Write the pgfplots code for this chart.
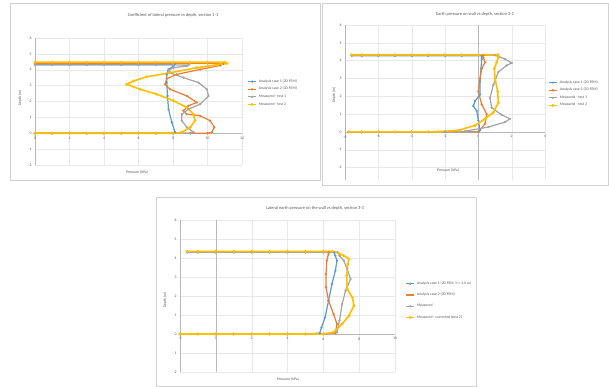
\documentclass[border=0pt]{standalone}
\usepackage{pgfplots}
\pgfplotsset{compat=1.18}
\usepackage{fontspec}
\setmainfont{Carlito}
\definecolor{xblue}{HTML}{5B9BD5}
\definecolor{xorange}{HTML}{ED7D31}
\definecolor{xgray}{HTML}{A5A5A5}
\definecolor{xyellow}{HTML}{FFC000}
\definecolor{txt}{HTML}{595959}
\newcommand{\tf}{\fontsize{3.8}{4.4}\selectfont}
\newcommand{\ttf}{\fontsize{4.4}{5}\selectfont}
\pgfplotsset{
 panel/.style={
  scale only axis,
  axis x line=middle, axis y line=left,
  axis line style={-, draw=gray!55, line width=0.4pt},
  grid=major, grid style={gray!18, line width=0.3pt},
  major tick length=0pt,
  tick label style={font=\tf, text=txt},
  /pgf/number format/assume math mode=true,
  hide obscured x ticks=false, hide obscured y ticks=false,
  clip=false,
  legend style={draw=none, fill=none, font=\tf, text=txt, row sep=-0.6pt, inner sep=0pt},
  legend cell align=left,
  legend image code/.code={\draw[mark repeat=2,mark phase=2,#1] plot coordinates {(0pt,0pt) (4pt,0pt) (8pt,0pt)};},
 },
 sb/.style={color=xblue, line width=1.2pt, mark=*, mark size=0.45pt},
 so/.style={color=xorange, line width=1.2pt, mark=*, mark size=0.45pt},
 sg/.style={color=xgray, line width=1.2pt, mark=*, mark size=0.45pt},
 sy/.style={color=xyellow, line width=1.6pt, mark=*, mark size=0.5pt},
}
\begin{document}
\begin{tikzpicture}
\fill[white] (0pt,0pt) rectangle (609pt,387pt);
\draw[gray!35, line width=0.4pt] (10pt,207pt) rectangle (320pt,384pt);
\draw[gray!35, line width=0.4pt] (322pt,202pt) rectangle (608pt,384pt);
\draw[gray!35, line width=0.4pt] (156pt,0.5pt) rectangle (476pt,190pt);

% ---------- Panel 1 ----------
\begin{axis}[panel, at={(35pt,222pt)}, anchor=south west, width=207pt, height=127pt,
  xmin=0, xmax=12, ymin=-2, ymax=6, xtick={0,2,...,12}, ytick={-2,-1,...,6},
  legend style={at={(rel axis cs:1.025,0.567)}, anchor=west}]
\addplot[sb] coordinates {(0,0)(1,0)(2,0)(3,0)(4,0)(5,0)(6,0)(7,0)(8,0)(8.12,0.06)(7.93,0.69)(7.74,1.52)(7.68,2.35)(7.64,3.19)(7.64,3.71)(7.74,4.02)(8.03,4.23)(8.1,4.35)(7,4.35)(6,4.35)(5,4.35)(4,4.35)(3,4.35)(2,4.35)(1,4.35)(0,4.35)};
\addplot[so] coordinates {(0,0)(1,0)(2,0)(3,0)(4,0)(5,0)(6,0)(7,0)(8,0)(9,0)(10,0)(10.25,0.06)(10.4,0.38)(10.15,0.79)(9.57,1.1)(8.8,1.2)(8.6,1.42)(8.9,1.73)(9.38,1.94)(8.8,2.35)(7.83,2.77)(7.54,3.08)(7.64,3.44)(8.22,3.71)(9.57,4.02)(10.73,4.27)(10.93,4.38)(10,4.4)(9,4.4)(8,4.4)(7,4.4)(6,4.4)(5,4.4)(4,4.4)(3,4.4)(2,4.4)(1,4.4)(0,4.4)};
\addplot[sg] coordinates {(0,0)(1,0)(2,0)(3,0)(4,0)(5,0)(6,0)(7,0)(8,0)(9,0)(9.19,0.06)(8.8,0.38)(8.51,0.79)(8.51,1.2)(8.9,1.52)(9.57,1.83)(10.06,2.35)(9.96,2.77)(9.48,3.19)(8.61,3.5)(7.93,3.77)(7.74,3.98)(8.03,4.13)(8.8,4.23)(8.9,4.3)(8,4.3)(7,4.3)(6,4.3)(5,4.3)(4,4.3)(3,4.3)(2,4.3)(1,4.3)(0,4.3)};
\addplot[sy] coordinates {(0,0)(1,0)(2,0)(3,0)(4,0)(5,0)(6,0)(7,0)(8,0)(8.51,0.06)(9.0,0.38)(9.28,0.79)(9.19,1.2)(8.8,1.63)(8.03,2.04)(7.06,2.46)(6.09,2.77)(5.32,3.08)(5.71,3.29)(6.48,3.56)(7.83,3.81)(9.38,4.13)(11.12,4.4)(11,4.47)(10,4.47)(9,4.47)(8,4.47)(7,4.47)(6,4.47)(5,4.47)(4,4.47)(3,4.47)(2,4.47)(1,4.47)(0,4.47)};
\legend{Analysis case 1 (2D FEM),Analysis case 2 (3D FEM),Measured - test 1,Measured - test 2}
\end{axis}

% ---------- Panel 2 ----------
\begin{axis}[panel, at={(345pt,207pt)}, anchor=south west, width=200pt, height=155pt,
  xmin=-8, xmax=4, ymin=-2.7, ymax=6, xtick={-8,-6,...,4}, ytick={-2,-1,...,6},
  legend style={at={(rel axis cs:1.015,0.555)}, anchor=west}]
\draw[gray!55, line width=0.4pt] (0,-2.7) -- (0,6);
\addplot[sb] coordinates {(-7.8,0)(-7,0)(-6,0)(-5,0)(-4,0)(-3,0)(-2,0)(-1,0)(0,0)(0.1,0.09)(0,0.64)(-0.1,1.18)(-0.3,1.45)(-0.2,1.73)(0.1,2.09)(0.1,2.82)(0.16,3.55)(0.2,4.09)(0.2,4.27)(-1,4.27)(-2,4.27)(-3,4.27)(-4,4.27)(-5,4.27)(-6,4.27)(-7,4.27)(-7.6,4.27)};
\addplot[so] coordinates {(-7.8,0)(-7,0)(-6,0)(-5,0)(-4,0)(-3,0)(-2,0)(-1,0)(0,0)(0.4,0.45)(0.5,1.0)(0.2,1.55)(0,2.27)(0.1,3.0)(0.2,3.55)(0.4,3.9)(0.3,4.18)(0.3,4.3)(-1,4.3)(-2,4.3)(-3,4.3)(-4,4.3)(-5,4.3)(-6,4.3)(-7,4.3)(-7.6,4.3)};
\addplot[sg] coordinates {(-7.8,0)(-7,0)(-6,0)(-5,0)(-4,0)(-3,0)(-2,0)(-1,0)(-0.8,0.04)(0.6,0.27)(1.6,0.55)(1.9,0.73)(1.4,0.96)(0.8,1.36)(0.7,1.91)(0.9,2.64)(1.2,3.36)(1.7,3.73)(2.0,3.87)(1.6,4.09)(1.2,4.24)(1,4.3)(0,4.3)(-1,4.3)(-2,4.3)(-3,4.3)(-4,4.3)(-5,4.3)(-6,4.3)(-7,4.3)(-7.6,4.3)};
\addplot[sy] coordinates {(-7.8,0)(-7,0)(-6,0)(-5,0)(-4,0)(-3,0)(-2.4,0.01)(-1.2,0.09)(-0.2,0.36)(0.4,0.73)(0.9,1.09)(1.2,1.64)(1.16,2.27)(1.0,3.0)(0.96,3.55)(1.1,3.91)(1.2,4.18)(1.2,4.33)(0,4.33)(-1,4.33)(-2,4.33)(-3,4.33)(-4,4.33)(-5,4.33)(-6,4.33)(-7,4.33)(-7.6,4.33)};
\legend{Analysis case 1 (2D FEM),Analysis case 2 (3D FEM),Measured - test 1,Measured - test 2}
\end{axis}

% ---------- Panel 3 ----------
\begin{axis}[panel, at={(180pt,15pt)}, anchor=south west, width=215pt, height=152pt,
  xmin=-2, xmax=10, ymin=-2, ymax=6, xtick={-2,0,...,10}, ytick={-2,-1,...,6},
  legend style={at={(rel axis cs:1.047,0.47)}, anchor=west, row sep=3pt}]
\draw[gray!55, line width=0.4pt] (0,-2) -- (0,6);
\addplot[sb] coordinates {(-2,0)(-1,0)(0,0)(1,0)(2,0)(3,0)(4,0)(5,0)(5.8,0.05)(5.9,0.35)(6.1,0.88)(6.29,1.75)(6.48,2.63)(6.67,3.33)(6.76,3.86)(6.67,4.12)(6.6,4.3)(6,4.3)(5,4.3)(4,4.3)(3,4.3)(2,4.3)(1,4.3)(0,4.3)(-1,4.3)(-1.6,4.3)};
\addplot[so] coordinates {(-2,0)(-1,0)(0,0)(1,0)(2,0)(3,0)(4,0)(5,0)(6,0)(6.67,0.04)(6.76,0.53)(6.57,1.05)(6.29,1.75)(6.15,2.46)(6.15,3.16)(6.19,3.86)(6.29,4.21)(6.3,4.32)(6,4.32)(5,4.32)(4,4.32)(3,4.32)(2,4.32)(1,4.32)(0,4.32)(-1,4.32)(-1.6,4.32)};
\addplot[sg] coordinates {(-2,0)(-1,0)(0,0)(1,0)(2,0)(3,0)(4,0)(5,0)(6,0)(6.76,0.09)(6.9,0.7)(7.05,1.58)(7.24,2.28)(7.52,2.89)(7.33,3.42)(7.14,3.86)(6.9,4.12)(6.8,4.3)(6,4.3)(5,4.3)(4,4.3)(3,4.3)(2,4.3)(1,4.3)(0,4.3)(-1,4.3)(-1.6,4.3)};
\addplot[sy] coordinates {(-2,0)(-1,0)(0,0)(1,0)(2,0)(3,0)(4,0)(5,0)(6,0)(6.57,0.09)(7.05,0.53)(7.43,0.96)(7.71,1.49)(7.62,1.93)(7.33,2.37)(7.3,3.07)(7.37,3.68)(7.43,3.95)(7.14,4.12)(6.86,4.25)(6.5,4.35)(6,4.35)(5,4.35)(4,4.35)(3,4.35)(2,4.35)(1,4.35)(0,4.35)(-1,4.35)(-1.6,4.35)};
\legend{{Analysis case 1 (2D FEM, h = 1.0 m)},{Analysis case 2 (3D FEM)},{Measured},{Measured - corrected (test 2)}}
\end{axis}

% ---------- Titles and axis labels ----------
\node[font=\ttf, text=txt] at (173pt,372pt) {Coefficient of lateral pressure vs depth, section 1-1};
\node[font=\ttf, text=txt] at (475pt,373pt) {Earth pressure on wall vs depth, section 2-2};
\node[font=\ttf, text=txt] at (315pt,179pt) {Lateral earth pressure on the wall vs depth, section 3-3};
\node[font=\tf, text=txt] at (137pt,215pt) {Pressure (kPa)};
\node[font=\tf, text=txt] at (448pt,217pt) {Pressure (kPa)};
\node[font=\tf, text=txt] at (288pt,8pt) {Pressure (kPa)};
\node[font=\tf, text=txt, rotate=90] at (20pt,289pt) {Depth (m)};
\node[font=\tf, text=txt, rotate=90] at (334pt,292pt) {Depth (m)};
\node[font=\tf, text=txt, rotate=90] at (165pt,87pt) {Depth (m)};
\pgfresetboundingbox
\useasboundingbox (0pt,0pt) rectangle (609pt,387pt);
\end{tikzpicture}
\end{document}
